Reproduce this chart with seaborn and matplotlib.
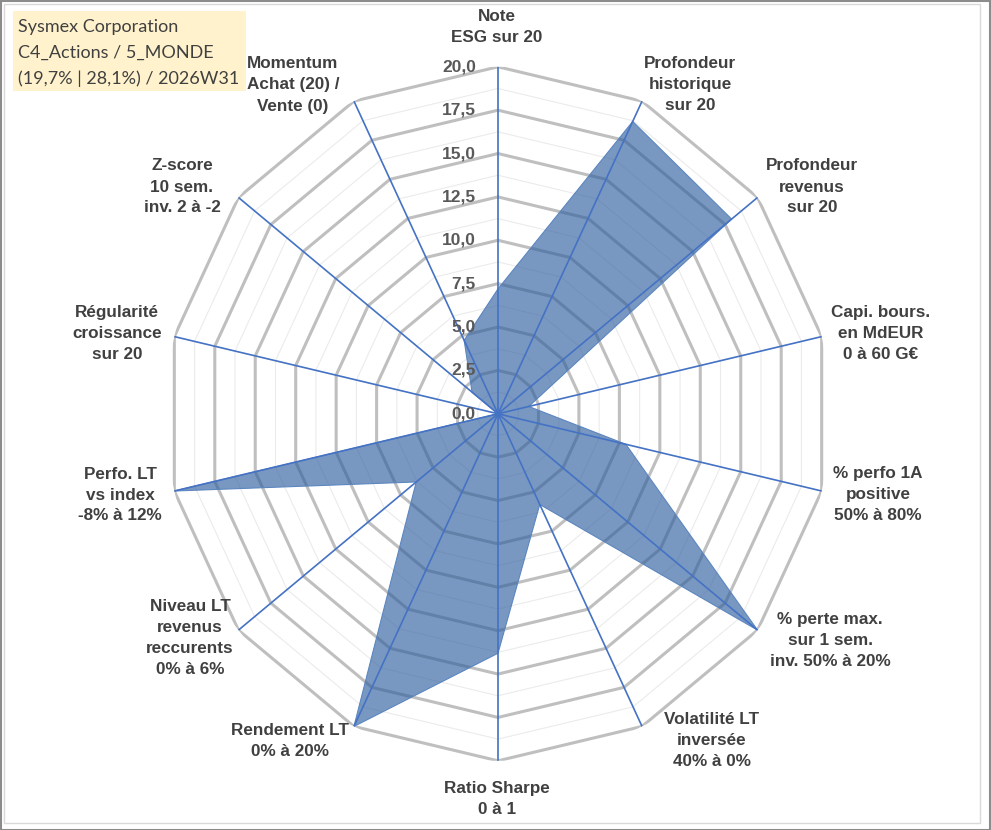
import numpy as np
import pandas as pd
import matplotlib
matplotlib.use("Agg")
import matplotlib.pyplot as plt
import matplotlib.transforms as mtransforms
from matplotlib.patches import Rectangle
import seaborn as sns

# Données du radar (sens horaire depuis le haut)
categories = ["Note\nESG sur 20",
              "Profondeur\nhistorique\nsur 20",
              "Profondeur\nrevenus\nsur 20",
              "Capi. bours.\nen MdEUR\n0 à 60 G€",
              "% perfo 1A\npositive\n50% à 80%",
              "% perte max.\nsur 1 sem.\ninv. 50% à 20%",
              "Volatilité LT\ninversée\n40% à 0%",
              "Ratio Sharpe\n0 à 1",
              "Rendement LT\n0% à 20%",
              "Niveau LT\nrevenus\nreccurents\n0% à 6%",
              "Perfo. LT\nvs index\n-8% à 12%",
              "Régularité\ncroissance\nsur 20",
              "Z-score\n10 sem.\ninv. 2 à -2",
              "Momentum\nAchat (20) /\nVente (0)"]
values = [7.2, 18.7, 18.0, 1.9, 7.9, 20.0, 5.8, 13.8, 20.0, 6.3, 20.0, 0.0, 2.0, 4.7]
major_ticks = [0.0, 2.5, 5.0, 7.5, 10.0, 12.5, 15.0, 17.5, 20.0]
minor_ticks = [1.25, 3.75, 6.25, 8.75, 11.25, 13.75, 16.25, 18.75]
title_lines = ["Sysmex Corporation", "C4_Actions / 5_MONDE", "(19,7% | 28,1%) / 2026W31"]

# positions des libellés (pixels dans l'image 991x830)
label_pos = [(497, 27), (690, 85), (812, 187), (881, 333), (878, 494), (830, 640),
             (712, 740), (497, 799), (290, 741), (190, 638), (120, 495), (117, 333),
             (182, 187), (293, 85)]

sns.set_theme(style="white")
plt.rcParams["font.family"] = ["Liberation Sans", "DejaVu Sans"]

W, H = 991, 830
fig = plt.figure(figsize=(W / 100, H / 100), dpi=100)
fig.patch.set_facecolor("white")

# axe polaire légèrement écrasé horizontalement comme l'original
cx, cy, rx, ry = 498, 413.8, 332, 347
ax = fig.add_axes([(cx - rx) / W, (H - cy - ry) / H, 2 * rx / W, 2 * ry / H],
                  projection="polar")
ax.set_aspect("auto")
ax.set_theta_zero_location("N")
ax.set_theta_direction(-1)
ax.patch.set_visible(False)
ax.spines["polar"].set_visible(False)
ax.grid(False)
ax.set_xticks([])
ax.set_yticks([])
ax.set_ylim(0, 20)

n = len(categories)
theta = np.linspace(0, 2 * np.pi, n, endpoint=False)
theta_c = np.append(theta, theta[0])

# grilles polygonales
for r in minor_ticks:
    ax.plot(theta_c, [r] * (n + 1), color="#EBEBEB", lw=0.8, zorder=1)
for r in major_ticks[1:]:
    ax.plot(theta_c, [r] * (n + 1), color="#BFBFBF", lw=2.2, zorder=2)

# série remplie
df = pd.DataFrame({"theta": theta_c, "valeur": values + [values[0]]})
ax.fill(df["theta"], df["valeur"], color="#2E5E9E", alpha=0.64, lw=0, zorder=3)
sns.lineplot(data=df, x="theta", y="valeur", sort=False, estimator=None,
             color="#5B86C0", lw=0.8, ax=ax, zorder=4)
ax.set_xlabel("")
ax.set_ylabel("")

# rayons
for t in theta:
    ax.plot([t, t], [0, 20], color="#4472C4", lw=1.2, zorder=5)

# étiquettes de l'échelle
off = mtransforms.offset_copy(ax.transData, fig=fig, x=-22, y=0, units="dots")
for r in major_ticks:
    ax.text(0, r, f"{r:.1f}".replace(".", ","), transform=off, ha="right", va="center",
            fontsize=12.5, fontweight="bold", color="#595959", zorder=6)

# libellés des axes
for lab, (px, py) in zip(categories, label_pos):
    fig.text(px / W, 1 - py / H, lab, ha="center", va="center", fontsize=12.3,
             fontweight="bold", color="#404040", linespacing=1.5)

# cartouche titre
fig.patches.append(Rectangle((13 / W, 1 - 91 / H), 233 / W, 80 / H, transform=fig.transFigure,
                             facecolor="#FFF2CC", edgecolor="none", zorder=0))
for i, line in enumerate(title_lines):
    fig.text(18 / W, 1 - (27 + 26 * i) / H, line, ha="left", va="center", fontsize=13,
             color="#404040", family=["Lato", "DejaVu Sans"])

# bordures
fig.patches.append(Rectangle((4 / W, 1 - 823 / H), 976 / W, 819 / H, transform=fig.transFigure,
                             facecolor="none", edgecolor="#D9D9D9", lw=1))
fig.patches.append(Rectangle((0.5 / W, 0.5 / H), (W - 1.5) / W, (H - 1.5) / H,
                             transform=fig.transFigure, facecolor="none",
                             edgecolor="#8C8C8C", lw=1.5))

fig.savefig("out.png", dpi=100)
